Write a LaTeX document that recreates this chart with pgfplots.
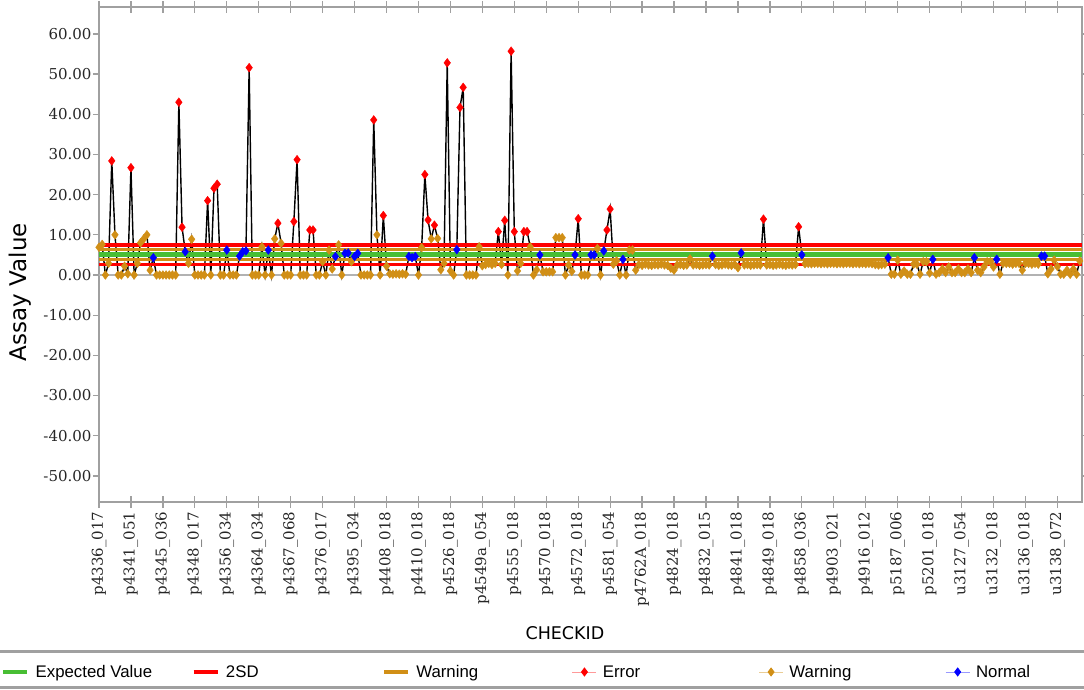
\documentclass[border=0pt]{standalone}
\usepackage{pgfplots}
\pgfplotsset{compat=1.18}
\usepackage{pgfplotstable}
\usepackage{fontspec}
\setmainfont{DejaVu Serif}
\newfontfamily\labelfont{DejaVu Sans}
\newfontfamily\legendfont{Liberation Sans}

\definecolor{wgold}{RGB}{209,143,22}
\definecolor{evgreen}{RGB}{72,190,52}
\definecolor{sdred}{RGB}{255,0,0}
\definecolor{nblue}{RGB}{0,0,255}
\definecolor{framegray}{RGB}{160,160,160}
\definecolor{zerogray}{RGB}{178,178,178}

% assay value per CHECKID (index), class: E = error, W = warning, N = normal
\pgfplotstableread[row sep=\\]{
idx val cls \\
0 6.9 W \\ 1 7.6 W \\ 2 0 W \\ 3 2.9 W \\ 4 28.4 E \\ 5 10.0 W \\ 6 0 W \\ 7 0 W \\ 8 2.2 W \\ 9 0.3 W \\
10 26.7 E \\ 11 0 W \\ 12 2.9 W \\ 13 8.0 W \\ 14 9.0 W \\ 15 10.0 W \\ 16 1.2 W \\ 17 4.3 N \\ 18 0 W \\ 19 0 W \\
20 0 W \\ 21 0 W \\ 22 0 W \\ 23 0 W \\ 24 0 W \\ 25 43.0 E \\ 26 11.9 E \\ 27 5.8 N \\ 28 2.9 W \\ 29 8.9 W \\
30 0 W \\ 31 0 W \\ 32 0 W \\ 33 0 W \\ 34 18.5 E \\ 35 0 W \\ 36 21.6 E \\ 37 22.6 E \\ 38 0 W \\ 39 0 W \\
40 6.2 N \\ 41 0 W \\ 42 0 W \\ 43 0 W \\ 44 4.7 N \\ 45 5.8 N \\ 46 6.0 N \\ 47 51.6 E \\ 48 0 W \\ 49 0 W \\
50 0 W \\ 51 7.0 W \\ 52 0 W \\ 53 6.2 N \\ 54 0 W \\ 55 9.0 W \\ 56 12.9 E \\ 57 7.9 W \\ 58 0 W \\ 59 0 W \\
60 0 W \\ 61 13.3 E \\ 62 28.7 E \\ 63 0 W \\ 64 0 W \\ 65 0 W \\ 66 11.2 E \\ 67 11.2 E \\ 68 0 W \\ 69 0 W \\
70 3.3 W \\ 71 0 W \\ 72 6.2 W \\ 73 1.5 W \\ 74 4.6 N \\ 75 7.5 W \\ 76 0 W \\ 77 5.4 N \\ 78 5.5 N \\ 79 3.3 W \\
80 4.6 N \\ 81 5.4 N \\ 82 0 W \\ 83 0 W \\ 84 0 W \\ 85 0 W \\ 86 38.6 E \\ 87 10.0 W \\ 88 0 W \\ 89 14.8 E \\
90 2.2 W \\ 91 0.3 W \\ 92 0.2 W \\ 93 0.3 W \\ 94 0.2 W \\ 95 0.3 W \\ 96 0.2 W \\ 97 4.6 N \\ 98 4.3 N \\ 99 4.6 N \\
100 0 W \\ 101 6.8 W \\ 102 25.0 E \\ 103 13.7 E \\ 104 9.0 W \\ 105 12.4 E \\ 106 9.1 W \\ 107 1.3 W \\ 108 2.9 W \\ 109 52.8 E \\
110 1.0 W \\ 111 0 W \\ 112 6.3 N \\ 113 41.7 E \\ 114 46.7 E \\ 115 0 W \\ 116 0 W \\ 117 0 W \\ 118 0 W \\ 119 7.0 W \\
120 2.3 W \\ 121 2.6 W \\ 122 2.9 W \\ 123 2.6 W \\ 124 2.9 W \\ 125 10.8 E \\ 126 2.6 W \\ 127 13.6 E \\ 128 0 W \\ 129 55.7 E \\
130 10.8 E \\ 131 1.0 W \\ 132 2.9 W \\ 133 10.8 E \\ 134 10.8 E \\ 135 7.0 W \\ 136 0 W \\ 137 1.3 W \\ 138 5.0 N \\ 139 0.8 W \\
140 0.8 W \\ 141 0.8 W \\ 142 0.8 W \\ 143 9.3 W \\ 144 9.3 W \\ 145 9.3 W \\ 146 0 W \\ 147 2.5 W \\ 148 0.9 W \\ 149 5.0 N \\
150 14.0 E \\ 151 0 W \\ 152 0 W \\ 153 0 W \\ 154 5.0 N \\ 155 5.0 N \\ 156 6.6 W \\ 157 0 W \\ 158 6.0 N \\ 159 11.2 E \\
160 16.4 E \\ 161 2.7 W \\ 162 3.5 W \\ 163 0 W \\ 164 3.9 N \\ 165 0 W \\ 166 6.2 W \\ 167 6.2 W \\ 168 1.2 W \\ 169 2.6 W \\
170 2.4 W \\ 171 2.7 W \\ 172 2.5 W \\ 173 2.4 W \\ 174 2.6 W \\ 175 2.5 W \\ 176 2.7 W \\ 177 2.5 W \\ 178 2.4 W \\ 179 1.7 W \\
180 1.2 W \\ 181 2.5 W \\ 182 2.6 W \\ 183 2.4 W \\ 184 2.5 W \\ 185 4.0 W \\ 186 2.5 W \\ 187 2.6 W \\ 188 2.4 W \\ 189 2.5 W \\
190 2.6 W \\ 191 2.5 W \\ 192 4.7 N \\ 193 2.6 W \\ 194 2.4 W \\ 195 2.5 W \\ 196 2.7 W \\ 197 2.5 W \\ 198 2.4 W \\ 199 2.6 W \\
200 1.8 W \\ 201 5.5 N \\ 202 2.5 W \\ 203 2.6 W \\ 204 2.4 W \\ 205 2.5 W \\ 206 2.6 W \\ 207 2.5 W \\ 208 13.9 E \\ 209 2.5 W \\
210 2.6 W \\ 211 2.4 W \\ 212 2.5 W \\ 213 2.7 W \\ 214 2.5 W \\ 215 2.4 W \\ 216 2.6 W \\ 217 2.5 W \\ 218 2.6 W \\ 219 12.0 E \\
220 5.0 N \\ 221 2.8 W \\ 222 2.9 W \\ 223 2.8 W \\ 224 2.9 W \\ 225 2.9 W \\ 226 2.8 W \\ 227 2.9 W \\ 228 2.8 W \\ 229 2.9 W \\
230 2.9 W \\ 231 2.8 W \\ 232 2.9 W \\ 233 2.8 W \\ 234 2.9 W \\ 235 2.9 W \\ 236 2.8 W \\ 237 2.9 W \\ 238 2.8 W \\ 239 2.9 W \\
240 2.8 W \\ 241 2.9 W \\ 242 2.8 W \\ 243 2.6 W \\ 244 2.5 W \\ 245 2.6 W \\ 246 2.7 W \\ 247 4.3 N \\ 248 0.2 W \\ 249 0.2 W \\
250 3.7 W \\ 251 0.2 W \\ 252 1.0 W \\ 253 0.2 W \\ 254 0.2 W \\ 255 2.7 W \\ 256 2.7 W \\ 257 0.2 W \\ 258 3.3 W \\ 259 3.3 W \\
260 0.5 W \\ 261 3.9 N \\ 262 0.2 W \\ 263 0.6 W \\ 264 1.5 W \\ 265 0.6 W \\ 266 2.0 W \\ 267 0.6 W \\ 268 0.6 W \\ 269 1.5 W \\
270 0.6 W \\ 271 0.6 W \\ 272 1.5 W \\ 273 0.6 W \\ 274 4.3 N \\ 275 1.2 W \\ 276 0.6 W \\ 277 2.0 W \\ 278 3.3 W \\ 279 3.3 W \\
280 2.0 W \\ 281 3.9 N \\ 282 0.2 W \\ 283 2.9 W \\ 284 2.9 W \\ 285 2.9 W \\ 286 2.7 W \\ 287 2.9 W \\ 288 2.9 W \\ 289 1.2 W \\
290 2.9 W \\ 291 2.9 W \\ 292 2.7 W \\ 293 2.9 W \\ 294 2.7 W \\ 295 4.7 N \\ 296 4.7 N \\ 297 0.3 W \\ 298 1.5 W \\ 299 3.7 W \\
300 2.1 W \\ 301 0.2 W \\ 302 0.2 W \\ 303 1.2 W \\ 304 0.2 W \\ 305 1.5 W \\ 306 0.2 W \\ 307 3.5 W \\
}\assay

\begin{document}
\begin{tikzpicture}
\useasboundingbox (-99pt,-187pt) rectangle (985pt,502pt);
\begin{axis}[
  at={(0pt,0pt)}, anchor=south west,
  scale only axis, width=983pt, height=495pt,
  xmin=0, xmax=307.7, ymin=-56.5, ymax=66.7,
  clip=false,
  axis line style={framegray, line width=1.3pt},
  tick style={framegray, line width=1.3pt},
  tick align=outside, major tick length=6pt,
  xtick={0,10,...,300},
  xticklabels={p4336\_017,p4341\_051,p4345\_036,p4348\_017,p4356\_034,p4364\_034,p4367\_068,p4376\_017,p4395\_034,p4408\_018,p4410\_018,p4526\_018,p4549a\_054,p4555\_018,p4570\_018,p4572\_018,p4581\_054,p4762A\_018,p4824\_018,p4832\_015,p4841\_018,p4849\_018,p4858\_036,p4903\_021,p4916\_012,p5187\_006,p5201\_018,u3127\_054,u3132\_018,u3136\_018,u3138\_072},
  extra x ticks={0,10,...,300}, extra x tick labels={},
  extra x tick style={tick align=inside},
  ytick={-50,-40,...,60},
  scaled y ticks=false,
  yticklabel style={xshift=2pt, /pgf/number format/.cd, fixed, fixed zerofill, precision=2, assume math mode=true},
  tick label style={font=\fontsize{15}{18}\selectfont, text=black!85},
  xticklabel style={rotate=90, anchor=east},
  xlabel={CHECKID}, ylabel={Assay Value},
  xlabel style={at={(axis description cs:0.474,-0.2646)}, anchor=center, font=\labelfont\fontsize{17.5}{20}\selectfont},
  ylabel style={at={(axis description cs:-0.0804,0.424)}, anchor=center, font=\labelfont\fontsize{23}{27}\selectfont},
  legend columns=6,
  legend style={at={(axis description cs:-0.0997,-0.3434)}, anchor=west, draw=none, fill=none,
    inner sep=0pt, /tikz/column sep=6pt, nodes={inner sep=0pt},
    font=\legendfont\fontsize{16.8}{20}\selectfont},
  legend cell align=left,
  legend image code/.code={\draw[mark repeat=2, mark phase=2, #1] plot coordinates {(0pt,0pt) (12pt,0pt) (24pt,0pt)};},
]
% zero line and the run of assay values
\addplot[zerogray, line width=1.5pt, forget plot] coordinates {(0,0) (307.7,0)};
\addplot[black, line width=1.4pt, forget plot] table[x=idx, y=val]{\assay};
% expected value, warning band and 2SD limits
\addplot[evgreen, line width=5pt, forget plot] coordinates {(0,5.05) (307.7,5.05)};
\addplot[wgold, line width=3pt, forget plot] coordinates {(0,6.25) (307.7,6.25)};
\addplot[wgold, line width=3pt, forget plot] coordinates {(0,3.9) (307.7,3.9)};
\addplot[sdred, line width=3.5pt, forget plot] coordinates {(0,7.45) (307.7,7.45)};
\addplot[sdred, line width=3.5pt, forget plot] coordinates {(0,2.65) (307.7,2.65)};
% classified points
\addplot[only marks, scatter, scatter src=explicit symbolic, mark size=4.4pt,
  scatter/classes={
    E={mark=diamond*, draw=sdred, fill=sdred, mark options={xscale=1.2}},
    W={mark=diamond*, draw=wgold, fill=wgold, mark options={xscale=1.2}},
    N={mark=diamond*, draw=nblue, fill=nblue, mark options={xscale=1.2}}},
  forget plot] table[x=idx, y=val, meta=cls]{\assay};

% legend entries
\addlegendimage{legend image code/.code={\draw[evgreen, line width=4.5pt] (0pt,0pt) -- (24pt,0pt);}}
\addlegendentry{\makebox[149.8pt][l]{Expected Value}}
\addlegendimage{legend image code/.code={\draw[sdred, line width=4.5pt] (0pt,0pt) -- (24pt,0pt);}}
\addlegendentry{\makebox[149.8pt][l]{2SD}}
\addlegendimage{legend image code/.code={\draw[wgold, line width=4.5pt] (0pt,0pt) -- (24pt,0pt);}}
\addlegendentry{\makebox[149.8pt][l]{Warning}}
\addlegendimage{sdred!40, line width=0.8pt, mark=diamond*, mark size=4pt, mark options={draw=sdred, fill=sdred}}
\addlegendentry{\makebox[149.8pt][l]{Error}}
\addlegendimage{wgold!45, line width=0.8pt, mark=diamond*, mark size=4pt, mark options={draw=wgold, fill=wgold}}
\addlegendentry{\makebox[149.8pt][l]{Warning}}
\addlegendimage{nblue!40, line width=0.8pt, mark=diamond*, mark size=4pt, mark options={draw=nblue, fill=nblue}}
\addlegendentry{Normal}
\end{axis}
% legend panel rules
\draw[framegray, line width=2.6pt] (-99pt,-149.5pt) -- (985pt,-149.5pt);
\draw[framegray, line width=2.6pt] (-99pt,-185.7pt) -- (985pt,-185.7pt);
\end{tikzpicture}
\end{document}
